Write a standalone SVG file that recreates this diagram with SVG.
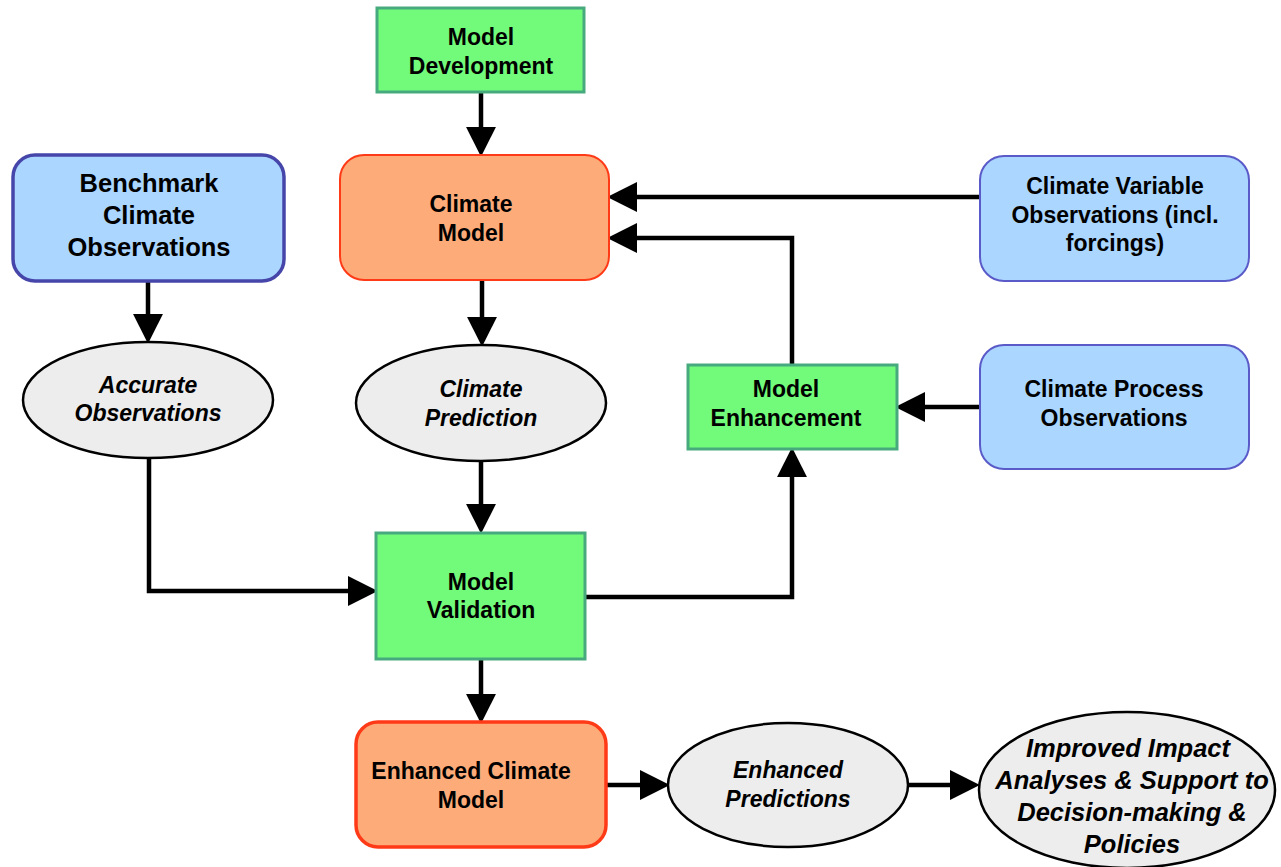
<svg xmlns="http://www.w3.org/2000/svg" width="1281" height="867" viewBox="0 0 1281 867">
<defs>
<style>
.green{fill:#72FB7A;stroke:#47A97E;stroke-width:3}
.orange{fill:#FDAB79;stroke:#FF3A17;stroke-width:2}
.blue{fill:#AAD6FF;stroke:#5A5AC8;stroke-width:2}
.oval{fill:#EDEDED;stroke:#000;stroke-width:2.5}
.t{font-family:"Liberation Sans",Arial,sans-serif;font-weight:bold;font-size:23px;text-anchor:middle;fill:#000}
.i{font-style:italic}
.c{fill:none;stroke:#000;stroke-width:4.5;marker-end:url(#ah)}
</style>
<marker id="ah" markerUnits="userSpaceOnUse" markerWidth="30" markerHeight="30" viewBox="0 0 26 26" refX="14" refY="13" orient="auto">
<path d="M0,0 L26,13 L0,26 z" fill="#000"/>
</marker>
</defs>
<rect width="1281" height="867" fill="#fff"/>
<g id="connectors">
<path class="c" d="M481,92 V143"/>
<path class="c" d="M980,197 H621"/>
<path class="c" d="M792,364 V238 H621"/>
<path class="c" d="M980,407 H909"/>
<path class="c" d="M585,597 H792 V461"/>
<path class="c" d="M148,281 V330"/>
<path class="c" d="M482,280 V333"/>
<path class="c" d="M149,458 V591 H364"/>
<path class="c" d="M481,460 V520"/>
<path class="c" d="M481,659 V710"/>
<path class="c" d="M606,785 H656"/>
<path class="c" d="M908,785 H966"/>
</g>
<g id="model-development">
<rect class="green" x="377" y="8" width="207" height="84"/>
<text class="t" x="481" y="45">Model</text>
<text class="t" x="481" y="74">Development</text>
</g>
<g id="climate-model">
<rect class="orange" x="340" y="155" width="269" height="125" rx="24"/>
<text class="t" x="471" y="212">Climate</text>
<text class="t" x="471" y="241">Model</text>
</g>
<g id="benchmark">
<rect class="blue" x="13" y="155" width="271" height="126" rx="22" style="stroke:#4646AA;stroke-width:3.5"/>
<text class="t" x="149" y="192" style="font-size:25.5px">Benchmark</text>
<text class="t" x="149" y="224" style="font-size:25.5px">Climate</text>
<text class="t" x="149" y="256" style="font-size:25.5px">Observations</text>
</g>
<g id="climate-variable-observations">
<rect class="blue" x="980" y="156" width="269" height="125" rx="24"/>
<text class="t" x="1115" y="194">Climate Variable</text>
<text class="t" x="1115" y="223">Observations (incl.</text>
<text class="t" x="1115" y="251">forcings)</text>
</g>
<g id="accurate-observations">
<ellipse class="oval" cx="148" cy="400" rx="125" ry="58"/>
<text class="t i" x="148" y="393">Accurate</text>
<text class="t i" x="148" y="421">Observations</text>
</g>
<g id="climate-prediction">
<ellipse class="oval" cx="481" cy="403" rx="125" ry="58"/>
<text class="t i" x="481" y="397">Climate</text>
<text class="t i" x="481" y="426">Prediction</text>
</g>
<g id="model-enhancement">
<rect class="green" x="688" y="365" width="209" height="84"/>
<text class="t" x="786" y="397">Model</text>
<text class="t" x="786" y="426">Enhancement</text>
</g>
<g id="climate-process-observations">
<rect class="blue" x="980" y="345" width="269" height="124" rx="24"/>
<text class="t" x="1114" y="397">Climate Process</text>
<text class="t" x="1114" y="426">Observations</text>
</g>
<g id="model-validation">
<rect class="green" x="376" y="533" width="209" height="126"/>
<text class="t" x="481" y="590">Model</text>
<text class="t" x="481" y="618">Validation</text>
</g>
<g id="enhanced-climate-model">
<rect class="orange" x="356" y="722" width="250" height="125" rx="22" style="stroke-width:3.5"/>
<text class="t" x="471" y="779">Enhanced Climate</text>
<text class="t" x="471" y="808">Model</text>
</g>
<g id="enhanced-predictions">
<ellipse class="oval" cx="788" cy="785" rx="120" ry="62"/>
<text class="t i" x="788" y="778">Enhanced</text>
<text class="t i" x="788" y="807">Predictions</text>
</g>
<g id="improved-impact">
<ellipse class="oval" cx="1127" cy="790" rx="148" ry="78"/>
<text class="t i" x="1128" y="757" style="font-size:25.5px">Improved Impact</text>
<text class="t i" x="1132" y="789" style="font-size:25.5px">Analyses &amp; Support to</text>
<text class="t i" x="1132" y="821" style="font-size:25.5px">Decision-making &amp;</text>
<text class="t i" x="1132" y="853" style="font-size:25.5px">Policies</text>
</g>
</svg>
